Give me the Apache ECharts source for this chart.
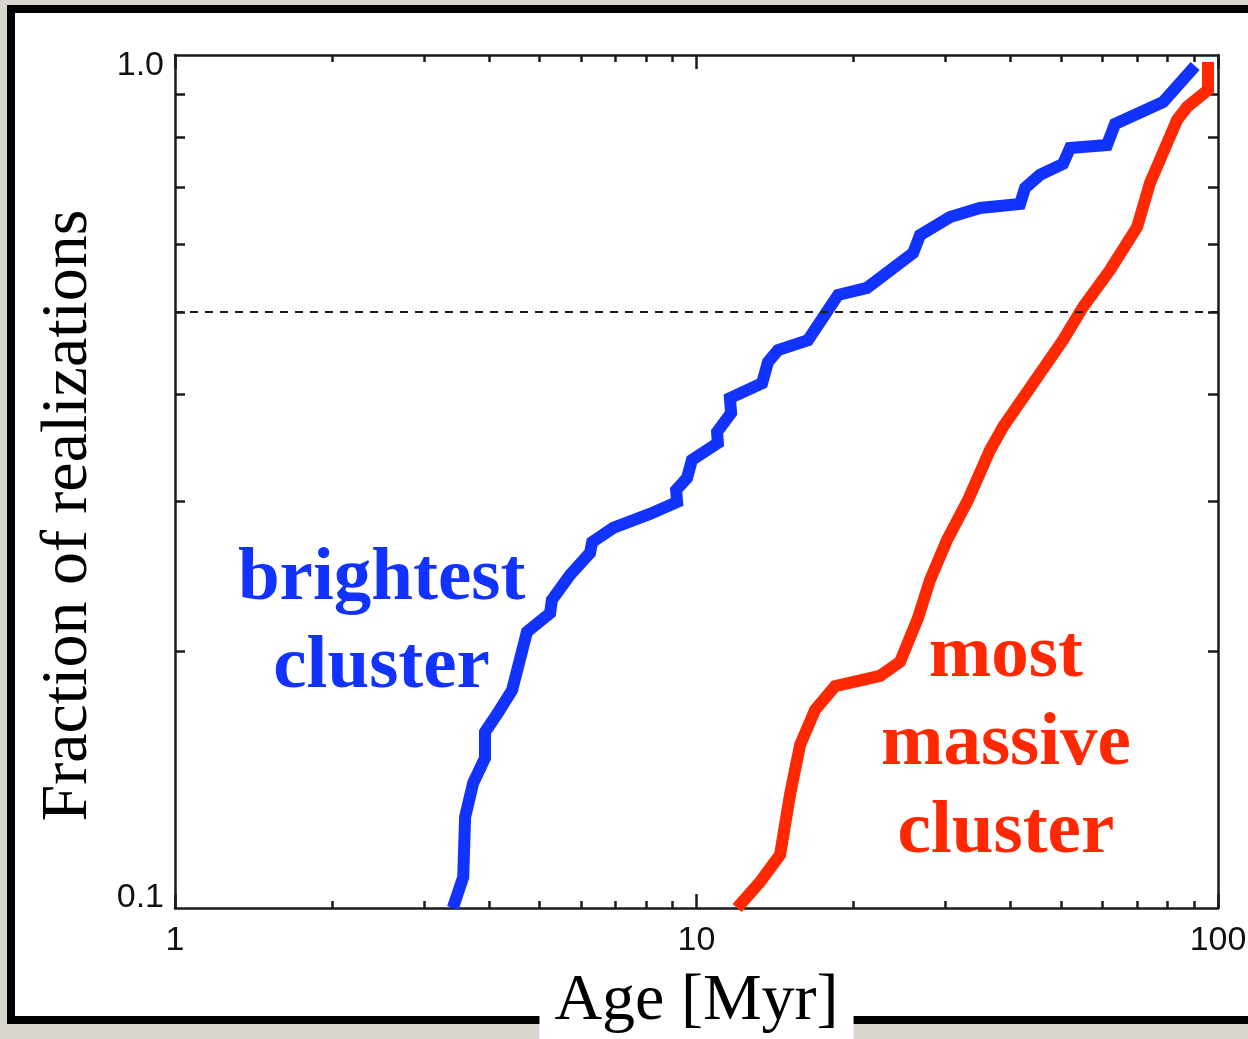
<!DOCTYPE html>
<html><head><meta charset="utf-8">
<script src="https://cdn.jsdelivr.net/npm/echarts@6/dist/echarts.min.js"></script>
<style>html,body{margin:0;padding:0;background:#d9d6d0;overflow:hidden;} #c{width:1248px;height:1039px;}</style>
</head><body><div id="c"></div>
<script>
// ---- data ----
const brightestAge  = [3.41, 3.57, 3.60, 3.73, 3.93, 3.93, 4.16, 4.43, 4.73, 5.24, 5.28, 5.72, 6.25, 6.31, 6.92, 8.14, 9.18, 9.14, 9.59, 9.80, 10.99, 10.95, 11.65, 11.59, 13.36, 13.71, 14.33, 16.36, 18.68, 21.23, 26.02, 26.83, 30.63, 34.97, 41.73, 42.66, 45.56, 50.45, 52.03, 61.26, 63.46, 78.47, 90.4];
const brightestFrac = [0.100, 0.1087, 0.1278, 0.1401, 0.1499, 0.1608, 0.1693, 0.1801, 0.2107, 0.2217, 0.2297, 0.2457, 0.2608, 0.2686, 0.2790, 0.2897, 0.2992, 0.3090, 0.3192, 0.3351, 0.3509, 0.3614, 0.3804, 0.3961, 0.4124, 0.4365, 0.4509, 0.4632, 0.5233, 0.5333, 0.5858, 0.6151, 0.6457, 0.6617, 0.6689, 0.6984, 0.7235, 0.7453, 0.7780, 0.7844, 0.8300, 0.8808, 0.9707];
const massiveAge    = [11.96, 13.24, 14.46, 15.11, 15.80, 16.88, 18.44, 22.48, 24.56, 26.59, 28.04, 30.22, 33.16, 36.54, 38.70, 50.45, 55.10, 62.08, 69.95, 74.07, 83.44, 87.21, 95.68, 95.68];
const massiveFrac   = [0.100, 0.1073, 0.1154, 0.1357, 0.1553, 0.1707, 0.1820, 0.1871, 0.1943, 0.2188, 0.2424, 0.2700, 0.3008, 0.3442, 0.3664, 0.4632, 0.5065, 0.5597, 0.6284, 0.7080, 0.8390, 0.8689, 0.9099, 0.9813];
const xMajorTicks = [1, 10, 100];
const xMinorTicks = [2, 3, 4, 5, 6, 7, 8, 9, 20, 30, 40, 50, 60, 70, 80, 90];
const yTicks      = [0.2, 0.3, 0.4, 0.5, 0.6, 0.7, 0.8, 0.9];
const yLabels     = [0.1, 1.0];
const halfLevel   = 0.5;
const brightestLabel = 'brightest\ncluster';
const massiveLabel   = 'most\nmassive\ncluster';

const BLUE = '#1232ff', RED = '#ff2800', INK = '#1a1a1a';
const zip = (a, b) => a.map((v, i) => [v, b[i]]);
const line = { color: INK, width: 2.5 };
const xBase = { type: 'log', logBase: 10, min: 1, max: 100, splitLine: { show: false }, minorTick: { show: false } };
const yBase = { type: 'log', logBase: 10, min: 0.1, max: 1, splitLine: { show: false }, minorTick: { show: false } };
const tickFont = { fontFamily: 'Liberation Sans', fontSize: 34, color: '#111' };

const chart = echarts.init(document.getElementById('c'), null, { renderer: 'canvas' });
chart.setOption({
  animation: false,
  backgroundColor: '#d9d6d0',
  graphic: [{
    type: 'rect', z: -100,
    shape: { x: 11, y: 9, width: 1260, height: 1011 },
    style: { fill: '#ffffff', stroke: '#000000', lineWidth: 8 }
  }],
  grid: { left: 175, right: 30, top: 55, bottom: 131, containLabel: false, outerBoundsMode: 'none' },
  xAxis: [
    Object.assign({}, xBase, {
      position: 'bottom',
      axisLine: { show: true, onZero: false, lineStyle: line },
      axisTick: { show: true, inside: true, length: 14, customValues: xMajorTicks, lineStyle: line },
      axisLabel: Object.assign({ show: true, customValues: xMajorTicks, margin: 16 }, tickFont),
      name: 'Age [Myr]', nameLocation: 'middle', nameGap: 57,
      nameTextStyle: { fontFamily: 'Liberation Serif', fontSize: 66, color: '#000', backgroundColor: '#ffffff', padding: [4, 15, 30, 15] }
    }),
    Object.assign({}, xBase, {
      position: 'bottom',
      axisLine: { show: false },
      axisTick: { show: true, inside: true, length: 7, customValues: xMinorTicks, lineStyle: line },
      axisLabel: { show: false }
    }),
    Object.assign({}, xBase, {
      position: 'top',
      axisLine: { show: true, onZero: false, lineStyle: line },
      axisTick: { show: true, inside: true, length: 14, customValues: xMajorTicks, lineStyle: line },
      axisLabel: { show: false }
    }),
    Object.assign({}, xBase, {
      position: 'top',
      axisLine: { show: false },
      axisTick: { show: true, inside: true, length: 7, customValues: xMinorTicks, lineStyle: line },
      axisLabel: { show: false }
    })
  ],
  yAxis: [
    Object.assign({}, yBase, {
      position: 'left',
      axisLine: { show: true, onZero: false, lineStyle: line },
      axisTick: { show: true, inside: true, length: 10, customValues: yTicks, lineStyle: line },
      axisLabel: {
        show: true, customValues: yLabels, margin: 11,
        formatter: v => (v > 0.5 ? '{t|' : '{b|') + v.toFixed(1) + '}',
        rich: {
          t: Object.assign({ padding: [22, 0, 0, 0] }, tickFont),
          b: Object.assign({ padding: [0, 0, 20, 0] }, tickFont)
        }
      },
      name: 'Fraction of realizations', nameLocation: 'middle', nameGap: 73,
      nameTextStyle: { fontFamily: 'Liberation Serif', fontSize: 66, color: '#000', padding: [0, 68, 0, 0] }
    }),
    Object.assign({}, yBase, {
      position: 'right',
      axisLine: { show: true, onZero: false, lineStyle: line },
      axisTick: { show: true, inside: true, length: 10, customValues: yTicks, lineStyle: line },
      axisLabel: { show: false }
    })
  ],
  series: [
    {
      type: 'line', xAxisIndex: 0, yAxisIndex: 0, data: [], z: 1, silent: true,
      markLine: {
        silent: true, symbol: ['none', 'none'], label: { show: false },
        lineStyle: { type: [8, 7], color: INK, width: 2 },
        data: [{ yAxis: halfLevel }]
      }
    },
    {
      type: 'line', xAxisIndex: 0, yAxisIndex: 0, z: 3,
      data: zip(brightestAge, brightestFrac), symbol: 'none', showSymbol: false,
      lineStyle: { color: BLUE, width: 12, join: 'miter', cap: 'butt' },
      markPoint: {
        silent: true, symbol: 'circle', symbolSize: 0,
        data: [{ coord: [2.49, 0.2153] }],
        label: { show: true, position: 'inside', formatter: brightestLabel, fontFamily: 'Liberation Serif', fontWeight: 'bold', fontSize: 75, lineHeight: 88, color: BLUE, align: 'center' }
      }
    },
    {
      type: 'line', xAxisIndex: 0, yAxisIndex: 0, z: 3,
      data: zip(massiveAge, massiveFrac), symbol: 'none', showSymbol: false,
      lineStyle: { color: RED, width: 12, join: 'miter', cap: 'butt' },
      markPoint: {
        silent: true, symbol: 'circle', symbolSize: 0,
        data: [{ coord: [39.2, 0.1553] }],
        label: { show: true, position: 'inside', formatter: massiveLabel, fontFamily: 'Liberation Serif', fontWeight: 'bold', fontSize: 75, lineHeight: 88, color: RED, align: 'center' }
      }
    }
  ]
});
</script></body></html>
